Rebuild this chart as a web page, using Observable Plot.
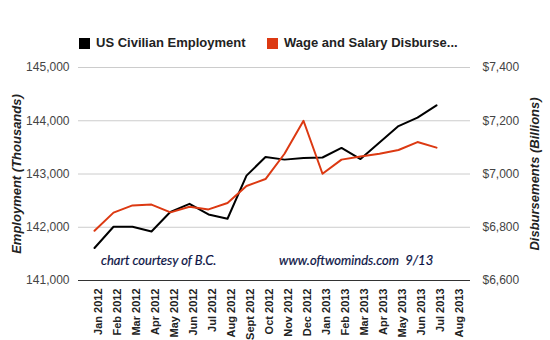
<!DOCTYPE html>
<html><head><meta charset="utf-8">
<script src="https://cdn.jsdelivr.net/npm/d3@7"></script>
<script src="https://cdn.jsdelivr.net/npm/@observablehq/plot@0.6"></script>
<style>
body{margin:0;background:#fff;}
#wrap{position:relative;width:550px;height:340px;font-family:Arial,"Liberation Sans",sans-serif;overflow:hidden;}
#wrap svg{position:absolute;left:0;top:0;}
.leg{position:absolute;top:36px;height:14px;font-weight:bold;font-size:13px;line-height:14px;color:#222;white-space:nowrap;}
.sw{display:inline-block;width:11px;height:11px;vertical-align:top;margin-top:2px;margin-right:6px;}
.note{position:absolute;top:253px;font-family:Lato,"Open Sans",sans-serif;font-style:italic;font-size:13px;line-height:15px;color:#0c1445;white-space:pre;-webkit-text-stroke:0.2px #0c1445;}
</style>
</head><body>
<div id="wrap"></div>
<script>
const months = ["Jan 2012","Feb 2012","Mar 2012","Apr 2012","May 2012","Jun 2012","Jul 2012","Aug 2012","Sept 2012","Oct 2012","Nov 2012","Dec 2012","Jan 2013","Feb 2013","Mar 2013","Apr 2013","May 2013","Jun 2013","Jul 2013","Aug 2013"];
// US Civilian Employment (thousands), Jan 2012 - Jul 2013
const employment = [141610,142010,142010,141920,142290,142440,142240,142160,142970,143320,143270,143300,143310,143490,143280,143590,143900,144060,144290];
// Wage and Salary Disbursements ($ billions), Jan 2012 - Jul 2013
const disbursements = [6787,6855,6882,6885,6856,6877,6867,6891,6955,6981,7076,7200,7001,7054,7066,7076,7090,7120,7099];
const empTicks = [141000,142000,143000,144000,145000];
const dollarTicks = [6600,6800,7000,7200,7400];
const seriesNames = ["US Civilian Employment","Wage and Salary Disburse..."];
const seriesColors = ["#000000","#dc3912"];

const toEmp = d3.scaleLinear([dollarTicks[0], dollarTicks[dollarTicks.length-1]], [empTicks[0], empTicks[empTicks.length-1]]);
const rows = employment.map((e,i) => ({month: months[i], emp: e, disb: disbursements[i]}));

const chart = Plot.plot({
  width: 550, height: 340,
  marginTop: 67, marginBottom: 60, marginLeft: 78, marginRight: 80,
  style: {fontFamily: "Arial, 'Liberation Sans', sans-serif", background: "transparent"},
  x: {type: "point", domain: months, padding: 0.5, align: 0.5},
  y: {domain: [empTicks[0], empTicks[empTicks.length-1]]},
  marks: [
    Plot.gridY(empTicks.slice(1), {stroke: "#cccccc", strokeOpacity: 1}),
    Plot.ruleY([empTicks[0]], {stroke: "#333333", strokeWidth: 1}),
    Plot.axisY(empTicks, {anchor: "left", tickSize: 0, tickPadding: 9, tickFormat: d3.format(","), fontSize: 12, fill: "#444", label: null}),
    Plot.axisY(dollarTicks.map(toEmp), {anchor: "right", tickSize: 0, tickPadding: 12, tickFormat: v => "$" + d3.format(",")(Math.round(toEmp.invert(v))), fontSize: 12, fill: "#444", label: null}),
    Plot.axisX({tickRotate: -90, tickSize: 0, tickPadding: 8, dx: 4, fontWeight: "bold", fontSize: 11, fill: "#222", label: null}),
    Plot.text(["Employment (Thousands)"], {frameAnchor: "left", textAnchor: "middle", dx: -62, rotate: -90, fontWeight: "bold", fontStyle: "italic", fontSize: 13, fill: "#222"}),
    Plot.text(["Disbursements (Billions)"], {frameAnchor: "right", textAnchor: "middle", dx: 64, rotate: -90, fontWeight: "bold", fontStyle: "italic", fontSize: 13, fill: "#222"}),
    Plot.line(rows, {x: "month", y: "emp", stroke: seriesColors[0], strokeWidth: 2}),
    Plot.line(rows, {x: "month", y: d => toEmp(d.disb), stroke: seriesColors[1], strokeWidth: 2})
  ]
});
const wrap = document.getElementById("wrap");
wrap.appendChild(chart);

const legLefts = [79, 267];
seriesNames.forEach((n,i) => {
  const d = document.createElement("div");
  d.className = "leg";
  d.style.left = legLefts[i] + "px";
  d.innerHTML = `<span class="sw" style="background:${seriesColors[i]}"></span>${n}`;
  wrap.appendChild(d);
});
const notes = [["chart courtesy of B.C.", 101], ["www.oftwominds.com  9/13", 279]];
notes.forEach(([t,l]) => {
  const d = document.createElement("div");
  d.className = "note";
  d.style.left = l + "px";
  d.textContent = t;
  wrap.appendChild(d);
});
</script>
</body></html>
